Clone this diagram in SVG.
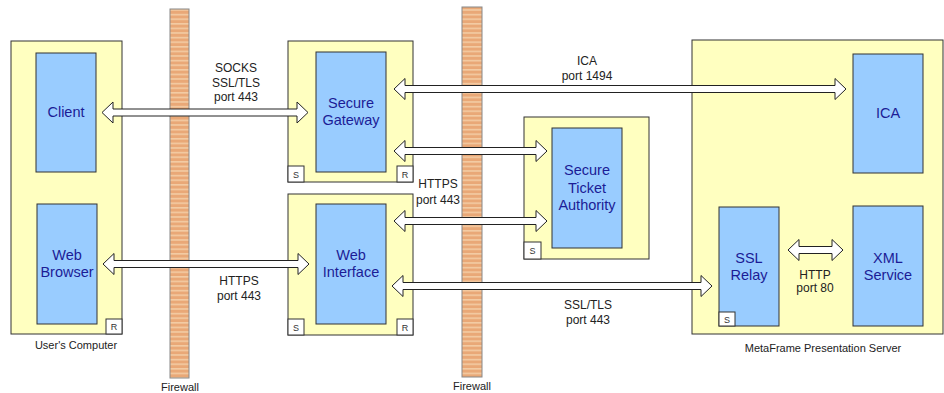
<svg xmlns="http://www.w3.org/2000/svg" width="944" height="393" viewBox="0 0 944 393">
<defs>
<pattern id="fw" patternUnits="userSpaceOnUse" x="0" y="0" width="20" height="4.6">
<rect width="20" height="4.6" fill="#E9A877"/>
<rect y="0" width="20" height="1.6" fill="#F3CBA3"/>
</pattern>
<style>
.outer{fill:#FFFFC0;stroke:#333;stroke-width:1}
.inner{fill:#99CCFF;stroke:#333;stroke-width:1}
.tag{fill:#fff;stroke:#333;stroke-width:1}
.tagt{font-family:"Liberation Sans",Arial,sans-serif;font-size:9px;fill:#333;text-anchor:middle}
.nl{font-family:"Liberation Sans",Arial,sans-serif;font-size:14.5px;fill:#1C1C96;text-anchor:middle}
.lbl{font-family:"Liberation Sans",Arial,sans-serif;font-size:12px;fill:#222;text-anchor:middle}
.cap{font-family:"Liberation Sans",Arial,sans-serif;font-size:11px;fill:#222;text-anchor:middle}
.fw{fill:url(#fw);stroke:#888;stroke-width:1}
.arr{fill:#fff;stroke:#222;stroke-width:1;stroke-linejoin:miter}
</style>
</defs>
<rect width="944" height="393" fill="#fff"/>

<g id="users-computer">
<rect class="outer" x="11" y="41" width="111" height="293"/>
<rect class="tag" x="106" y="319" width="16" height="15"/>
<text class="tagt" x="114" y="330">R</text>
<text class="cap" x="76" y="349">User's Computer</text>
</g>
<g id="client">
<rect class="inner" x="36" y="53" width="60" height="119"/>
<text class="nl" x="66" y="117">Client</text>
</g>
<g id="web-browser">
<rect class="inner" x="37" y="204" width="60" height="120"/>
<text class="nl" x="67" y="260">Web</text>
<text class="nl" x="67" y="277">Browser</text>
</g>

<g id="firewall-1">
<rect class="fw" x="170" y="9" width="19" height="369"/>
<text class="cap" x="180" y="391">Firewall</text>
</g>
<g id="firewall-2">
<rect class="fw" x="462" y="7" width="20" height="370"/>
<text class="cap" x="472" y="390">Firewall</text>
</g>

<g id="secure-gateway">
<rect class="outer" x="288" y="41" width="125" height="141"/>
<rect class="inner" x="316" y="52" width="70" height="120"/>
<text class="nl" x="351" y="108">Secure</text>
<text class="nl" x="351" y="125">Gateway</text>
<rect class="tag" x="288" y="166" width="16" height="16"/>
<text class="tagt" x="296" y="177.5">S</text>
<rect class="tag" x="397" y="166" width="16" height="16"/>
<text class="tagt" x="405" y="177.5">R</text>
</g>

<g id="web-interface">
<rect class="outer" x="288" y="194" width="125" height="141"/>
<rect class="inner" x="316" y="204" width="70" height="120"/>
<text class="nl" x="351" y="260">Web</text>
<text class="nl" x="351" y="277">Interface</text>
<rect class="tag" x="288" y="319" width="16" height="16"/>
<text class="tagt" x="296" y="330.5">S</text>
<rect class="tag" x="397" y="319" width="16" height="16"/>
<text class="tagt" x="405" y="330.5">R</text>
</g>

<g id="secure-ticket-authority">
<rect class="outer" x="524" y="117" width="125" height="142"/>
<rect class="inner" x="552" y="128" width="70" height="120"/>
<text class="nl" x="587" y="175">Secure</text>
<text class="nl" x="587" y="193">Ticket</text>
<text class="nl" x="587" y="210">Authority</text>
<rect class="tag" x="524" y="242" width="17" height="17"/>
<text class="tagt" x="532.5" y="254">S</text>
</g>

<g id="metaframe-server">
<rect class="outer" x="692" y="40" width="251" height="294"/>
<text class="cap" x="823" y="352">MetaFrame Presentation Server</text>
</g>
<g id="ica">
<rect class="inner" x="853" y="54" width="70" height="119"/>
<text class="nl" x="888" y="118">ICA</text>
</g>
<g id="ssl-relay">
<rect class="inner" x="719" y="207" width="60" height="119"/>
<text class="nl" x="749" y="263">SSL</text>
<text class="nl" x="749" y="280">Relay</text>
<rect class="tag" x="719" y="312" width="16" height="14"/>
<text class="tagt" x="727" y="322.5">S</text>
</g>
<g id="xml-service">
<rect class="inner" x="853" y="206" width="70" height="120"/>
<text class="nl" x="888" y="263">XML</text>
<text class="nl" x="888" y="280">Service</text>
</g>

<g id="connectors">
<path class="arr" d="M102,112.5 L113,102 L113,109 L297,109 L297,102 L308,112.5 L297,123 L297,116 L113,116 L113,123 Z"/>
<path class="arr" d="M103,264 L114,253.5 L114,260.5 L298,260.5 L298,253.5 L309,264 L298,274.5 L298,267.5 L114,267.5 L114,274.5 Z"/>
<path class="arr" d="M394,89 L405,78.5 L405,85.5 L835,85.5 L835,78.5 L846,89 L835,99.5 L835,92.5 L405,92.5 L405,99.5 Z"/>
<path class="arr" d="M394,151 L405,140.5 L405,147.5 L536,147.5 L536,140.5 L547,151 L536,161.5 L536,154.5 L405,154.5 L405,161.5 Z"/>
<path class="arr" d="M394,221 L405,210.5 L405,217.5 L536,217.5 L536,210.5 L547,221 L536,231.5 L536,224.5 L405,224.5 L405,231.5 Z"/>
<path class="arr" d="M392,286 L403,275.5 L403,282.5 L701,282.5 L701,275.5 L712,286 L701,296.5 L701,289.5 L403,289.5 L403,296.5 Z"/>
<path class="arr" d="M788,250 L799,239.5 L799,246.5 L832,246.5 L832,239.5 L843,250 L832,260.5 L832,253.5 L799,253.5 L799,260.5 Z"/>
<text class="lbl" x="236" y="72">SOCKS</text>
<text class="lbl" x="236" y="86.5">SSL/TLS</text>
<text class="lbl" x="236" y="101">port 443</text>
<text class="lbl" x="239" y="285">HTTPS</text>
<text class="lbl" x="239" y="300">port 443</text>
<text class="lbl" x="587" y="65">ICA</text>
<text class="lbl" x="587" y="80">port 1494</text>
<text class="lbl" x="438" y="188">HTTPS</text>
<text class="lbl" x="438" y="204">port 443</text>
<text class="lbl" x="588" y="309">SSL/TLS</text>
<text class="lbl" x="588" y="324">port 443</text>
<text class="lbl" x="815" y="279">HTTP</text>
<text class="lbl" x="815" y="292">port 80</text>
</g>
</svg>
